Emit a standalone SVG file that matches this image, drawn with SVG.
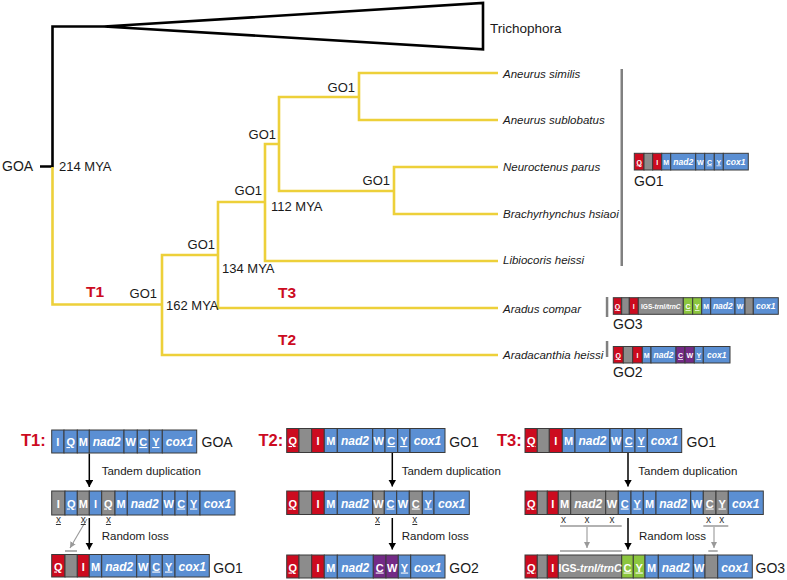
<svg xmlns="http://www.w3.org/2000/svg" width="787" height="580" viewBox="0 0 787 580">
<defs>
<style>
.tr{fill:none;stroke:#edd03a;stroke-width:2.6}
.bk{fill:none;stroke:#000;stroke-width:2.6;stroke-linejoin:miter}
rect{stroke:#3b3b3b;stroke-width:1}
.B{fill:#5b8fd3}
.R{fill:#cc0b1f}
.G{fill:#8c8c8c}
.N{fill:#8cc63f}
.P{fill:#732a86}
text{font-family:"Liberation Sans",Arial,sans-serif}
.w{fill:#fff;font-weight:bold;text-anchor:middle}
.l{font-size:11px}
.g{font-size:12px;font-style:italic}
.ls{font-size:7px}
.gs{font-size:8.5px;font-style:italic}
.u{text-decoration:underline}
.lab{fill:#1a1a1a;font-size:13px}
.lb{fill:#1a1a1a;font-size:14px}
.leaf{fill:#1a1a1a;font-size:11.5px;font-style:italic}
.red{fill:#cc0b1f;font-weight:bold}
.cap{fill:#1a1a1a;font-size:11.5px}
.x{fill:#333;font-size:10px;text-anchor:middle;text-decoration:underline}
.xx{fill:#333;font-size:10px;text-anchor:middle}
.ar{stroke:#000;stroke-width:1.5;fill:none}
.ga{stroke:#999;stroke-width:1.1;fill:none}
.gl{stroke:#999;stroke-width:1.5;fill:none}
.bar{fill:#808080;stroke:none}
</style>
<marker id="ah" markerUnits="userSpaceOnUse" markerWidth="8" markerHeight="9" refX="7" refY="4" orient="auto"><path d="M0,0 L7,4 L0,8 z" fill="#000"/></marker>
<marker id="gh" markerUnits="userSpaceOnUse" markerWidth="8" markerHeight="8" refX="6" refY="3" orient="auto"><path d="M0,0 L6,3 L0,6 z" fill="#999"/></marker>
</defs>

<g id="connectors">
<path class="bk" d="M40 166.5 H52.5 V26.5 H104"/>
<path class="bk" d="M104 26.5 L483 3 V49.3 Z"/>
<path class="tr" d="M52.5 167 V304.5 H162"/>
<path class="tr" d="M218 255 H162 V355 H498"/>
<path class="tr" d="M265 202 H218 V308 H498"/>
<path class="tr" d="M279 144 H265 V261 H498"/>
<path class="tr" d="M359 97 H279 V191 H394"/>
<path class="tr" d="M498 73 H359 V120 H498"/>
<path class="tr" d="M498 167 H394 V214 H498"/>
<line class="ar" x1="89.3" y1="453.5" x2="89.3" y2="487" marker-end="url(#ah)"/>
<line class="ar" x1="89.3" y1="518" x2="89.3" y2="549.5" marker-end="url(#ah)"/>
<line class="ar" x1="392.3" y1="452.5" x2="392.3" y2="486.5" marker-end="url(#ah)"/>
<line class="ar" x1="392.3" y1="518" x2="392.3" y2="549.5" marker-end="url(#ah)"/>
<line class="ar" x1="628" y1="452.5" x2="628" y2="486.5" marker-end="url(#ah)"/>
<line class="ar" x1="628" y1="518" x2="628" y2="549.5" marker-end="url(#ah)"/>
<line class="ga" x1="87" y1="519" x2="70" y2="548" marker-end="url(#gh)"/>
<line class="ga" x1="587" y1="527" x2="587" y2="548" marker-end="url(#gh)"/>
<line class="ga" x1="714" y1="527" x2="714" y2="548" marker-end="url(#gh)"/>
<line class="gl" x1="65" y1="551" x2="77" y2="551"/>
<line class="gl" x1="560" y1="526" x2="621.7" y2="526"/>
<line class="gl" x1="703.3" y1="526" x2="728.3" y2="526"/>
<line class="gl" x1="560" y1="551" x2="621.7" y2="551"/>
<line class="gl" x1="708.3" y1="551" x2="717.7" y2="551"/>
</g>

<g id="tree-labels">
<text class="lb" x="2" y="171">GOA</text>
<text class="lab" x="59" y="171">214 MYA</text>
<text class="lab" x="271" y="211">112 MYA</text>
<text class="lab" x="222" y="273">134 MYA</text>
<text class="lab" x="166" y="310">162 MYA</text>
<text class="lab" x="355" y="92" text-anchor="end">GO1</text>
<text class="lab" x="276" y="139" text-anchor="end">GO1</text>
<text class="lab" x="262" y="195" text-anchor="end">GO1</text>
<text class="lab" x="215" y="249" text-anchor="end">GO1</text>
<text class="lab" x="157" y="298" text-anchor="end">GO1</text>
<text class="lab" x="390" y="185" text-anchor="end">GO1</text>
<text class="red" x="86" y="297" font-size="15.5">T1</text>
<text class="red" x="278" y="298" font-size="15.5">T3</text>
<text class="red" x="278" y="345" font-size="15.5">T2</text>
</g>

<g id="leaves">
<text x="490" y="33" fill="#1a1a1a" font-size="13.5">Trichophora</text>
<text class="leaf" x="503" y="77.5">Aneurus similis</text>
<text class="leaf" x="503" y="124.3">Aneurus sublobatus</text>
<text class="leaf" x="503" y="171">Neuroctenus parus</text>
<text class="leaf" x="503" y="217.6">Brachyrhynchus hsiaoi</text>
<text class="leaf" x="503" y="264.3">Libiocoris heissi</text>
<text class="leaf" x="503" y="312.6">Aradus compar</text>
<text class="leaf" x="503" y="359.3">Aradacanthia heissi</text>
</g>

<g id="tree-GO1">
<rect class="bar" x="620.5" y="69" width="2.5" height="197"/>
<rect class="R" x="634.3" y="153.3" width="9.7" height="16.7"/>
<rect class="G" x="644" y="153.3" width="8.7" height="16.7"/>
<rect class="R" x="652.7" y="153.3" width="9" height="16.7"/>
<rect class="B" x="661.7" y="153.3" width="9" height="16.7"/>
<rect class="B" x="670.7" y="153.3" width="25" height="16.7"/>
<rect class="B" x="695.7" y="153.3" width="9" height="16.7"/>
<rect class="B" x="704.7" y="153.3" width="9.6" height="16.7"/>
<rect class="B" x="714.3" y="153.3" width="9" height="16.7"/>
<rect class="B" x="723.3" y="153.3" width="25" height="16.7"/>
<text class="w ls u" x="639.2" y="164.5">Q</text>
<text class="w ls" x="657.2" y="164.5">I</text>
<text class="w ls" x="666.2" y="164.5">M</text>
<text class="w gs" x="683.2" y="164.5">nad2</text>
<text class="w ls" x="700.2" y="164.5">W</text>
<text class="w ls u" x="709.5" y="164.5">C</text>
<text class="w ls u" x="718.8" y="164.5">Y</text>
<text class="w gs" x="735.8" y="164.5">cox1</text>
<text class="lb" x="634" y="186">GO1</text>
</g>

<g id="tree-GO3">
<rect class="bar" x="605.8" y="297" width="2.5" height="20"/>
<rect class="R" x="613.3" y="297.7" width="8.4" height="16.6"/>
<rect class="G" x="621.7" y="297.7" width="7.6" height="16.6"/>
<rect class="R" x="629.3" y="297.7" width="9" height="16.6"/>
<rect class="G" x="638.3" y="297.7" width="45" height="16.6"/>
<rect class="N" x="683.3" y="297.7" width="9.4" height="16.6"/>
<rect class="N" x="692.7" y="297.7" width="9" height="16.6"/>
<rect class="B" x="701.7" y="297.7" width="9" height="16.6"/>
<rect class="B" x="710.7" y="297.7" width="24.3" height="16.6"/>
<rect class="B" x="735" y="297.7" width="10" height="16.6"/>
<rect class="G" x="745" y="297.7" width="8.3" height="16.6"/>
<rect class="B" x="753.3" y="297.7" width="25" height="16.6"/>
<text class="w ls u" x="617.5" y="309">Q</text>
<text class="w ls" x="633.8" y="309">I</text>
<text class="w" x="660.8" y="309" font-size="6.6">IGS-<tspan font-style="italic">trnI/trnC</tspan></text>
<text class="w ls u" x="688" y="309">C</text>
<text class="w ls u" x="697.2" y="309">Y</text>
<text class="w ls" x="706.2" y="309">M</text>
<text class="w gs" x="722.8" y="309">nad2</text>
<text class="w ls" x="740" y="309">W</text>
<text class="w gs" x="765.8" y="309">cox1</text>
<text class="lb" x="613" y="329">GO3</text>
</g>

<g id="tree-GO2">
<rect class="bar" x="605.8" y="341" width="2.5" height="16"/>
<rect class="R" x="613.3" y="346.5" width="10" height="16.5"/>
<rect class="G" x="623.3" y="346.5" width="9.4" height="16.5"/>
<rect class="R" x="632.7" y="346.5" width="9.6" height="16.5"/>
<rect class="B" x="642.3" y="346.5" width="8.7" height="16.5"/>
<rect class="B" x="651" y="346.5" width="25" height="16.5"/>
<rect class="P" x="676" y="346.5" width="9" height="16.5"/>
<rect class="P" x="685" y="346.5" width="9.3" height="16.5"/>
<rect class="B" x="694.3" y="346.5" width="9" height="16.5"/>
<rect class="B" x="703.3" y="346.5" width="26.7" height="16.5"/>
<text class="w ls u" x="618.3" y="358">Q</text>
<text class="w ls" x="637.5" y="358">I</text>
<text class="w ls" x="646.7" y="358">M</text>
<text class="w gs" x="663.5" y="358">nad2</text>
<text class="w ls u" x="680.5" y="358">C</text>
<text class="w ls" x="689.7" y="358">W</text>
<text class="w ls u" x="698.8" y="358">Y</text>
<text class="w gs" x="716.7" y="358">cox1</text>
<text class="lb" x="613" y="377">GO2</text>
</g>

<g id="T1">
<text class="red" x="21" y="446" font-size="16.5">T1:</text>
<rect class="B" x="51.7" y="430" width="12.3" height="23"/>
<rect class="B" x="64" y="430" width="13.3" height="23"/>
<rect class="B" x="77.3" y="430" width="12" height="23"/>
<rect class="B" x="89.3" y="430" width="34.7" height="23"/>
<rect class="B" x="124" y="430" width="13.3" height="23"/>
<rect class="B" x="137.3" y="430" width="12" height="23"/>
<rect class="B" x="149.3" y="430" width="13" height="23"/>
<rect class="B" x="162.3" y="430" width="34.4" height="23"/>
<text class="w l" x="57.9" y="446">I</text>
<text class="w l u" x="70.7" y="446">Q</text>
<text class="w l" x="83.3" y="446">M</text>
<text class="w g" x="106.7" y="446">nad2</text>
<text class="w l" x="130.7" y="446">W</text>
<text class="w l u" x="143.3" y="446">C</text>
<text class="w l u" x="155.8" y="446">Y</text>
<text class="w g" x="179.5" y="446">cox1</text>
<text class="lb" x="201.5" y="447">GOA</text>
<text class="cap" x="101.7" y="475">Tandem duplication</text>

<rect class="G" x="51.7" y="491" width="13.3" height="24"/>
<rect class="B" x="65" y="491" width="12.3" height="24"/>
<rect class="G" x="77.3" y="491" width="12" height="24"/>
<rect class="B" x="89.3" y="491" width="12.4" height="24"/>
<rect class="G" x="101.7" y="491" width="13.3" height="24"/>
<rect class="B" x="115" y="491" width="12.3" height="24"/>
<rect class="B" x="127.3" y="491" width="35" height="24"/>
<rect class="B" x="162.3" y="491" width="12.7" height="24"/>
<rect class="B" x="175" y="491" width="12.3" height="24"/>
<rect class="B" x="187.3" y="491" width="12.7" height="24"/>
<rect class="B" x="200" y="491" width="35" height="24"/>
<text class="w l" x="58.4" y="507.5">I</text>
<text class="w l u" x="71.2" y="507.5">Q</text>
<text class="w l" x="83.3" y="507.5">M</text>
<text class="w l" x="95.5" y="507.5">I</text>
<text class="w l u" x="108.4" y="507.5">Q</text>
<text class="w l" x="121.2" y="507.5">M</text>
<text class="w g" x="144.8" y="507.5">nad2</text>
<text class="w l" x="168.7" y="507.5">W</text>
<text class="w l u" x="181.2" y="507.5">C</text>
<text class="w l u" x="193.7" y="507.5">Y</text>
<text class="w g" x="217.5" y="507.5">cox1</text>
<text class="x" x="58.4" y="523">x</text>
<text class="x" x="83.3" y="523">x</text>
<text class="x" x="108.4" y="523">x</text>
<text class="cap" x="101.7" y="540">Random loss</text>

<rect class="R" x="51.7" y="554.5" width="13.3" height="22.5"/>
<rect class="G" x="65" y="554.5" width="12.3" height="22.5"/>
<rect class="R" x="77.3" y="554.5" width="12" height="22.5"/>
<rect class="B" x="89.3" y="554.5" width="12.4" height="22.5"/>
<rect class="B" x="101.7" y="554.5" width="35" height="22.5"/>
<rect class="B" x="136.7" y="554.5" width="13.3" height="22.5"/>
<rect class="B" x="150" y="554.5" width="12.3" height="22.5"/>
<rect class="B" x="162.3" y="554.5" width="12.7" height="22.5"/>
<rect class="B" x="175" y="554.5" width="34.3" height="22.5"/>
<text class="w l u" x="58.4" y="570.5">Q</text>
<text class="w l" x="83.3" y="570.5">I</text>
<text class="w l" x="95.5" y="570.5">M</text>
<text class="w g" x="119.2" y="570.5">nad2</text>
<text class="w l" x="143.3" y="570.5">W</text>
<text class="w l u" x="156.2" y="570.5">C</text>
<text class="w l u" x="168.7" y="570.5">Y</text>
<text class="w g" x="192.2" y="570.5">cox1</text>
<text class="lb" x="213.3" y="573">GO1</text>
</g>

<g id="T2">
<text class="red" x="258.5" y="446" font-size="16.5">T2:</text>
<rect class="R" x="286.7" y="428.5" width="12.3" height="24"/>
<rect class="G" x="299" y="428.5" width="12.7" height="24"/>
<rect class="R" x="311.7" y="428.5" width="12.6" height="24"/>
<rect class="B" x="324.3" y="428.5" width="13" height="24"/>
<rect class="B" x="337.3" y="428.5" width="35.4" height="24"/>
<rect class="B" x="372.7" y="428.5" width="12.3" height="24"/>
<rect class="B" x="385" y="428.5" width="12.7" height="24"/>
<rect class="B" x="397.7" y="428.5" width="12.3" height="24"/>
<rect class="B" x="410" y="428.5" width="35" height="24"/>
<text class="w l u" x="292.8" y="445">Q</text>
<text class="w l" x="318" y="445">I</text>
<text class="w l" x="330.8" y="445">M</text>
<text class="w g" x="355" y="445">nad2</text>
<text class="w l" x="378.8" y="445">W</text>
<text class="w l u" x="391.3" y="445">C</text>
<text class="w l u" x="403.8" y="445">Y</text>
<text class="w g" x="427.5" y="445">cox1</text>
<text class="lb" x="449.3" y="447">GO1</text>
<text class="cap" x="401.7" y="475">Tandem duplication</text>

<rect class="R" x="286.7" y="491" width="12.3" height="23.5"/>
<rect class="G" x="299" y="491" width="12.7" height="23.5"/>
<rect class="R" x="311.7" y="491" width="12.6" height="23.5"/>
<rect class="B" x="324.3" y="491" width="13" height="23.5"/>
<rect class="B" x="337.3" y="491" width="35.4" height="23.5"/>
<rect class="G" x="372.7" y="491" width="11.6" height="23.5"/>
<rect class="B" x="384.3" y="491" width="12.4" height="23.5"/>
<rect class="B" x="396.7" y="491" width="12.6" height="23.5"/>
<rect class="G" x="409.3" y="491" width="13" height="23.5"/>
<rect class="B" x="422.3" y="491" width="11.7" height="23.5"/>
<rect class="B" x="434" y="491" width="35.3" height="23.5"/>
<text class="w l u" x="292.8" y="507.5">Q</text>
<text class="w l" x="318" y="507.5">I</text>
<text class="w l" x="330.8" y="507.5">M</text>
<text class="w g" x="355" y="507.5">nad2</text>
<text class="w l" x="378.5" y="507.5">W</text>
<text class="w l u" x="390.5" y="507.5">C</text>
<text class="w l" x="403" y="507.5">W</text>
<text class="w l u" x="415.8" y="507.5">C</text>
<text class="w l u" x="428.2" y="507.5">Y</text>
<text class="w g" x="451.7" y="507.5">cox1</text>
<text class="x" x="377.5" y="523">x</text>
<text class="x" x="414.8" y="523">x</text>
<text class="cap" x="401.7" y="540">Random loss</text>

<rect class="R" x="286.7" y="555" width="12.3" height="23"/>
<rect class="G" x="299" y="555" width="12.7" height="23"/>
<rect class="R" x="311.7" y="555" width="12.6" height="23"/>
<rect class="B" x="324.3" y="555" width="13" height="23"/>
<rect class="B" x="337.3" y="555" width="36" height="23"/>
<rect class="P" x="373.3" y="555" width="12.7" height="23"/>
<rect class="P" x="386" y="555" width="12.3" height="23"/>
<rect class="B" x="398.3" y="555" width="12.4" height="23"/>
<rect class="B" x="410.7" y="555" width="34.3" height="23"/>
<text class="w l u" x="292.8" y="571.5">Q</text>
<text class="w l" x="318" y="571.5">I</text>
<text class="w l" x="330.8" y="571.5">M</text>
<text class="w g" x="355.3" y="571.5">nad2</text>
<text class="w l u" x="379.7" y="571.5">C</text>
<text class="w l" x="392.2" y="571.5">W</text>
<text class="w l u" x="404.5" y="571.5">Y</text>
<text class="w g" x="427.8" y="571.5">cox1</text>
<text class="lb" x="449.3" y="573">GO2</text>
</g>

<g id="T3">
<text class="red" x="497" y="446" font-size="16.5">T3:</text>
<rect class="R" x="525" y="428.5" width="12.3" height="24"/>
<rect class="G" x="537.3" y="428.5" width="12" height="24"/>
<rect class="R" x="549.3" y="428.5" width="13" height="24"/>
<rect class="B" x="562.3" y="428.5" width="12.7" height="24"/>
<rect class="B" x="575" y="428.5" width="35" height="24"/>
<rect class="B" x="610" y="428.5" width="12.3" height="24"/>
<rect class="B" x="622.3" y="428.5" width="12.7" height="24"/>
<rect class="B" x="635" y="428.5" width="12.3" height="24"/>
<rect class="B" x="647.3" y="428.5" width="34.4" height="24"/>
<text class="w l u" x="531.2" y="445">Q</text>
<text class="w l" x="555.8" y="445">I</text>
<text class="w l" x="568.7" y="445">M</text>
<text class="w g" x="592.5" y="445">nad2</text>
<text class="w l" x="616.2" y="445">W</text>
<text class="w l u" x="628.7" y="445">C</text>
<text class="w l u" x="641.2" y="445">Y</text>
<text class="w g" x="664.5" y="445">cox1</text>
<text class="lb" x="686.5" y="447">GO1</text>
<text class="cap" x="638.3" y="475">Tandem duplication</text>

<rect class="R" x="525" y="491" width="12.3" height="23.5"/>
<rect class="G" x="537.3" y="491" width="10" height="23.5"/>
<rect class="R" x="547.3" y="491" width="11" height="23.5"/>
<rect class="G" x="558.3" y="491" width="12.4" height="23.5"/>
<rect class="G" x="570.7" y="491" width="35" height="23.5"/>
<rect class="G" x="605.7" y="491" width="12.6" height="23.5"/>
<rect class="B" x="618.3" y="491" width="12.7" height="23.5"/>
<rect class="B" x="631" y="491" width="12.3" height="23.5"/>
<rect class="B" x="643.3" y="491" width="12.7" height="23.5"/>
<rect class="B" x="656" y="491" width="34.7" height="23.5"/>
<rect class="B" x="690.7" y="491" width="12.6" height="23.5"/>
<rect class="G" x="703.3" y="491" width="12.7" height="23.5"/>
<rect class="G" x="716" y="491" width="12.3" height="23.5"/>
<rect class="B" x="728.3" y="491" width="35" height="23.5"/>
<text class="w l u" x="531.2" y="507.5">Q</text>
<text class="w l" x="552.8" y="507.5">I</text>
<text class="w l" x="564.5" y="507.5">M</text>
<text class="w g" x="588.2" y="507.5">nad2</text>
<text class="w l" x="612" y="507.5">W</text>
<text class="w l u" x="624.7" y="507.5">C</text>
<text class="w l u" x="637.2" y="507.5">Y</text>
<text class="w l" x="649.7" y="507.5">M</text>
<text class="w g" x="673.3" y="507.5">nad2</text>
<text class="w l" x="697" y="507.5">W</text>
<text class="w l u" x="709.7" y="507.5">C</text>
<text class="w l u" x="722.2" y="507.5">Y</text>
<text class="w g" x="745.8" y="507.5">cox1</text>
<text class="xx" x="563.5" y="523">x</text>
<text class="xx" x="587" y="523">x</text>
<text class="xx" x="612" y="523">x</text>
<text class="xx" x="708.5" y="523">x</text>
<text class="xx" x="721.8" y="523">x</text>
<text class="cap" x="639" y="540">Random loss</text>

<rect class="R" x="525" y="555" width="12.3" height="23"/>
<rect class="G" x="537.3" y="555" width="10" height="23"/>
<rect class="R" x="547.3" y="555" width="11" height="23"/>
<rect class="G" x="558.3" y="555" width="63.4" height="23"/>
<rect class="N" x="621.7" y="555" width="11.6" height="23"/>
<rect class="N" x="633.3" y="555" width="11.7" height="23"/>
<rect class="B" x="645" y="555" width="13.3" height="23"/>
<rect class="B" x="658.3" y="555" width="35" height="23"/>
<rect class="B" x="693.3" y="555" width="11.7" height="23"/>
<rect class="G" x="705" y="555" width="12.7" height="23"/>
<rect class="B" x="717.7" y="555" width="34.6" height="23"/>
<text class="w l u" x="531.2" y="571.5">Q</text>
<text class="w l" x="552.8" y="571.5">I</text>
<text class="w" x="590" y="571.5" font-size="10.5">IGS-<tspan font-style="italic">trnI/trnC</tspan></text>
<text class="w l u" x="627.5" y="571.5">C</text>
<text class="w l u" x="639.2" y="571.5">Y</text>
<text class="w l" x="651.7" y="571.5">M</text>
<text class="w g" x="675.8" y="571.5">nad2</text>
<text class="w l" x="699.2" y="571.5">W</text>
<text class="w g" x="735" y="571.5">cox1</text>
<text class="lb" x="755.5" y="573">GO3</text>
</g>
</svg>
